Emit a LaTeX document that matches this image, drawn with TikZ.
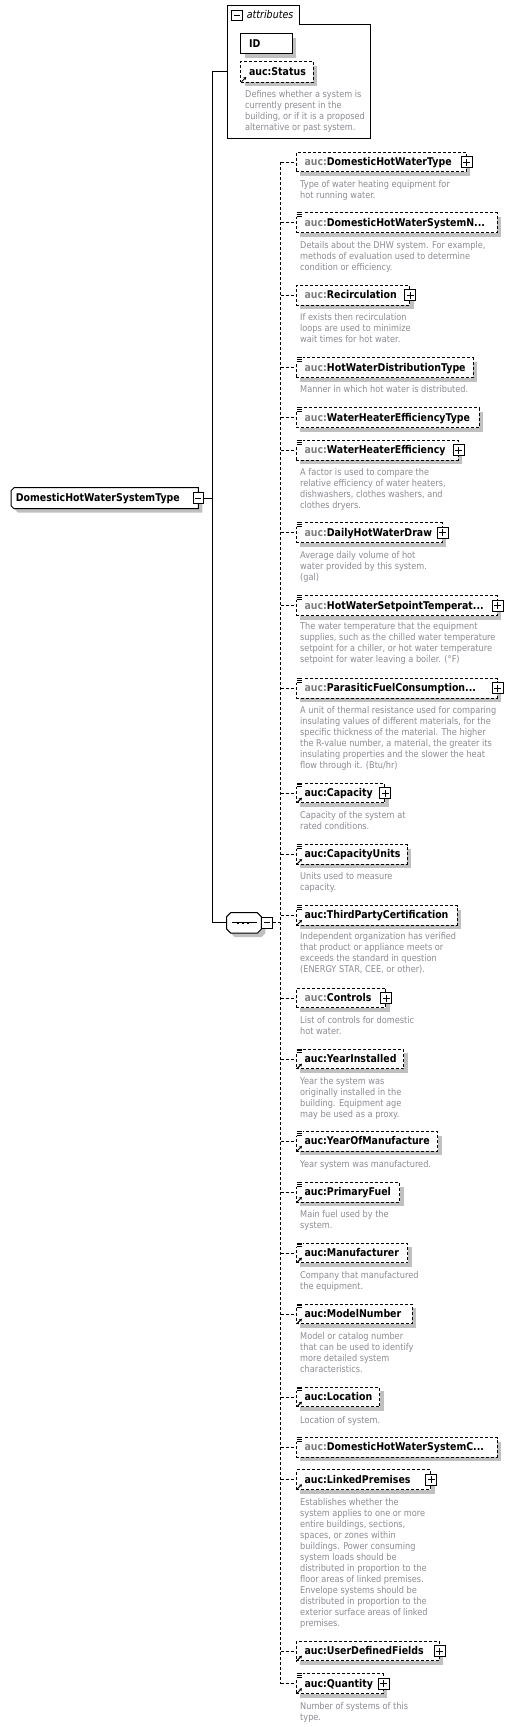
\documentclass[tikz,border=0pt]{standalone}
\usepackage{fontspec}
\setmainfont{DejaVu Sans}[FakeStretch=0.88]
\usetikzlibrary{shadows,arrows.meta,calc,backgrounds}
\definecolor{shadowgray}{RGB}{192,192,192}
\definecolor{desccol}{RGB}{140,140,148}
\definecolor{prefcol}{RGB}{128,128,128}
\newcommand{\nmfont}{\fontsize{10.7}{11}\selectfont\bfseries}
\newcommand{\dsfont}{\fontsize{9.3}{11}\selectfont}
\newcommand{\pfx}{\textcolor{prefcol}{auc:}}
\tikzset{
  lw/.style={line width=1pt},
  dsh/.style={dash pattern=on 3pt off 2pt},
  shad/.style={drop shadow={shadow xshift=4pt,shadow yshift=-4pt,fill=shadowgray,opacity=1}},
  elem/.style={draw, lw, dsh, fill=white, shad, anchor=north west, minimum height=19.7pt,
    inner xsep=8.3pt, inner ysep=0pt, text height=7.9pt, text depth=1pt, align=left, font=\nmfont},
  desc/.style={anchor=north west, inner sep=0pt, align=left, font=\dsfont, text=desccol},
  pbox/.style={draw, solid, lw, fill=white, minimum size=11pt, inner sep=0pt,
    path picture={\draw[lw] ([xshift=-3.5pt]path picture bounding box.center) -- ([xshift=3.5pt]path picture bounding box.center)
      ([yshift=-3.5pt]path picture bounding box.center) -- ([yshift=3.5pt]path picture bounding box.center);}},
  mbox/.style={draw, solid, lw, fill=white, minimum size=10.6pt, inner sep=0pt,
    path picture={\draw[lw] ([xshift=-3pt]path picture bounding box.center) -- ([xshift=3pt]path picture bounding box.center);}},
  conn/.style={lw},
  dconn/.style={lw, dsh},
  pics/lst/.style={code={\fill[white] (0.5,-1) rectangle (6.8,4.6);
    \draw[line width=0.8pt] (1,0.3) -- (6.3,0.3) (1,2.1) -- (6.3,2.1) (1,3.9) -- (6.3,3.9);}},
  pics/ref/.style={code={\draw[line width=0.9pt, -{Stealth[length=3pt,width=3.4pt]}] (1.5,-1) -- (6.3,-5.8);}},
}
\begin{document}
\begin{tikzpicture}[x=1pt,y=-1pt]
\begin{pgfonlayer}{background}
\fill[white] (0,0) rectangle (511,1727);
\end{pgfonlayer}
\useasboundingbox (0,0) rectangle (511,1727);

% ---------- attributes ----------
\node[minimum width=143.3pt, minimum height=133pt, anchor=north west, inner sep=0pt] (attrs) at (227,5) {};
\draw[lw] (attrs.north west) -- ++(72,0) -- ++(0,19) -| (attrs.south east) -- (attrs.south west) -- cycle;
\node[mbox] (attm) at (237,15.5) {};
\node[anchor=base west, inner sep=0pt, font=\fontsize{10.8}{11}\selectfont\itshape] (attl) at (246.7,18.7) {attributes};
\node[elem, solid, text width=34.7pt, inner xsep=8.5pt, minimum height=20pt] (aid) at (240,33.3) {\mbox{ID}};
\node[elem, text width=55.7pt, inner xsep=8.5pt, minimum height=20.7pt] (ast) at (240,61) {\mbox{auc:Status}};
\pic at (ast.south west) {ref};
\node[desc] (adesc) at (245,89.8) {\strut Defines whether a system is\\currently present in the\\building, or if it is a proposed\\alternative or past system.};

% ---------- root ----------
\node[anchor=north west, minimum width=187pt, minimum height=20.6pt, inner xsep=4.7pt, inner ysep=0pt,
  text width=177.6pt, align=left, font=\nmfont, text height=7.9pt, text depth=1pt] (root) at (11,487.7) {\mbox{DomesticHotWaterSystemType}};
\begin{pgfonlayer}{background}
\fill[shadowgray, transform canvas={xshift=4pt,yshift=-4pt}] ($(root.north west)+(3,0)$) -- (root.north east) -- (root.south east) -- ($(root.south west)+(3,0)$) -- ($(root.south west)+(0,-3)$) -- ($(root.north west)+(0,3)$) -- cycle;
\draw[lw, fill=white] ($(root.north west)+(3,0)$) -- (root.north east) -- (root.south east) -- ($(root.south west)+(3,0)$) -- ($(root.south west)+(0,-3)$) -- ($(root.north west)+(0,3)$) -- cycle;
\end{pgfonlayer}
\node[mbox] (rootm) at (root.east) {};

% ---------- sequence ----------
\node[anchor=north west, minimum width=34.3pt, minimum height=20pt, inner sep=0pt] (seq) at (226.7,912.7) {};
\begin{pgfonlayer}{background}
\fill[shadowgray, transform canvas={xshift=4pt,yshift=-4pt}] ($(seq.north west)+(4,0)$) -- ($(seq.north east)+(-4,0)$) -- ($(seq.north east)+(0,4)$) -- ($(seq.south east)+(0,-4)$) -- ($(seq.south east)+(-4,0)$) -- ($(seq.south west)+(4,0)$) -- ($(seq.south west)+(0,-4)$) -- ($(seq.north west)+(0,4)$) -- cycle;
\draw[lw, fill=white] ($(seq.north west)+(4,0)$) -- ($(seq.north east)+(-4,0)$) -- ($(seq.north east)+(0,4)$) -- ($(seq.south east)+(0,-4)$) -- ($(seq.south east)+(-4,0)$) -- ($(seq.south west)+(4,0)$) -- ($(seq.south west)+(0,-4)$) -- ($(seq.north west)+(0,4)$) -- cycle;
\end{pgfonlayer}
\draw[lw] ($(seq.center)+(-12.2,0)$) -- ($(seq.center)+(12.8,0)$);
\foreach \d in {-6.2,-1.2,3.8} \fill ($(seq.center)+(\d-1.3,-1.3)$) rectangle ($(seq.center)+(\d+1.3,1.3)$);
\node[mbox] (seqm) at ($(seq.east)+(5.35,0)$) {};

% ---------- elements ----------
\node[elem, text width=153.4pt] (e1) at (295.7,151.7) {\mbox{\pfx DomesticHotWaterType}};
\node[elem, text width=184.4pt] (e2) at (295.7,212.3) {\mbox{\pfx DomesticHotWaterSystemN...}};
\node[elem, text width=96.7pt] (e3) at (295.7,285) {\mbox{\pfx Recirculation}};
\node[elem, text width=160.4pt] (e4) at (295.7,357.3) {\mbox{\pfx HotWaterDistributionType}};
\node[elem, text width=166.4pt] (e5) at (295.7,407.3) {\mbox{\pfx WaterHeaterEfficiencyType}};
\node[elem, text width=145.4pt] (e6) at (295.7,440) {\mbox{\pfx WaterHeaterEfficiency}};
\node[elem, text width=129.4pt] (e7) at (295.7,522.3) {\mbox{\pfx DailyHotWaterDraw}};
\node[elem, text width=184.4pt] (e8) at (295.7,595.3) {\mbox{\pfx HotWaterSetpointTemperat...}};
\node[elem, text width=184.4pt] (e9) at (295.7,678) {\mbox{\pfx ParasiticFuelConsumption...}};
\node[elem, text width=72pt] (e10) at (295.7,782.7) {\mbox{auc:Capacity}};
\node[elem, text width=94.4pt] (e11) at (295.7,844) {\mbox{auc:CapacityUnits}};
\node[elem, text width=144.4pt] (e12) at (295.7,905) {\mbox{auc:ThirdPartyCertification}};
\node[elem, text width=72.7pt] (e13) at (295.7,987.7) {\mbox{\pfx Controls}};
\node[elem, text width=91pt] (e14) at (295.7,1048.7) {\mbox{auc:YearInstalled}};
\node[elem, text width=125pt] (e15) at (295.7,1131) {\mbox{auc:YearOfManufacture}};
\node[elem, text width=86.7pt] (e16) at (295.7,1182) {\mbox{auc:PrimaryFuel}};
\node[elem, text width=95pt] (e17) at (295.7,1242.7) {\mbox{auc:Manufacturer}};
\node[elem, text width=99.4pt] (e18) at (295.7,1303.7) {\mbox{auc:ModelNumber}};
\node[elem, text width=67pt] (e19) at (295.7,1386.7) {\mbox{auc:Location}};
\node[elem, text width=184.4pt] (e20) at (295.7,1437) {\mbox{\pfx DomesticHotWaterSystemC...}};
\node[elem, text width=117.7pt] (e21) at (295.7,1469.3) {\mbox{auc:LinkedPremises}};
\node[elem, text width=126.4pt] (e22) at (295.7,1640.7) {\mbox{auc:UserDefinedFields}};
\node[elem, text width=70.4pt] (e23) at (295.7,1673.3) {\mbox{auc:Quantity}};

\foreach \i in {1,3,6,7,8,9,10,13,21,22,23} \node[pbox] (p\i) at (e\i.east) {};
\foreach \i in {2,4,5,6,7,8,9,10,11,12,14,15,16,17,18,19,20,23} \pic at (e\i.north west) {lst};
\foreach \i in {10,11,12,14,15,16,17,18,19,21,22,23} \pic at (e\i.south west) {ref};

% ---------- descriptions ----------
\node[desc] (d1) at (300,179.8) {\strut Type of water heating equipment for\\hot running water.};
\node[desc] (d2) at (300,240.8) {\strut Details about the DHW system. For example,\\methods of evaluation used to determine\\condition or efficiency.};
\node[desc] (d3) at (300,312.5) {\strut If exists then recirculation\\loops are used to minimize\\wait times for hot water.};
\node[desc] (d4) at (300,384.8) {\strut Manner in which hot water is distributed.};
\node[desc] (d6) at (300,467.8) {\strut A factor is used to compare the\\relative efficiency of water heaters,\\dishwashers, clothes washers, and\\clothes dryers.};
\node[desc] (d7) at (300,550.5) {\strut Average daily volume of hot\\water provided by this system.\\(gal)};
\node[desc] (d8) at (300,621.8) {\strut The water temperature that the equipment\\supplies, such as the chilled water temperature\\setpoint for a chiller, or hot water temperature\\setpoint for water leaving a boiler. (°F)};
\node[desc] (d9) at (300,705.8) {\strut A unit of thermal resistance used for comparing\\insulating values of different materials, for the\\specific thickness of the material. The higher\\the R-value number, a material, the greater its\\insulating properties and the slower the heat\\flow through it. (Btu/hr)};
\node[desc] (d10) at (300,810.5) {\strut Capacity of the system at\\rated conditions.};
\node[desc] (d11) at (300,871.8) {\strut Units used to measure\\capacity.};
\node[desc] (d12) at (300,931.8) {\strut Independent organization has verified\\that product or appliance meets or\\exceeds the standard in question\\(ENERGY STAR, CEE, or other).};
\node[desc] (d13) at (300,1015.1) {\strut List of controls for domestic\\hot water.};
\node[desc] (d14) at (300,1076.8) {\strut Year the system was\\originally installed in the\\building. Equipment age\\may be used as a proxy.};
\node[desc] (d15) at (300,1159.5) {\strut Year system was manufactured.};
\node[desc] (d16) at (300,1209.8) {\strut Main fuel used by the\\system.};
\node[desc] (d17) at (300,1270.5) {\strut Company that manufactured\\the equipment.};
\node[desc] (d18) at (300,1331.8) {\strut Model or catalog number\\that can be used to identify\\more detailed system\\characteristics.};
\node[desc] (d19) at (300,1415.1) {\strut Location of system.};
\node[desc] (d21) at (300,1497.5) {\strut Establishes whether the\\system applies to one or more\\entire buildings, sections,\\spaces, or zones within\\buildings. Power consuming\\system loads should be\\distributed in proportion to the\\floor areas of linked premises.\\Envelope systems should be\\distributed in proportion to the\\exterior surface areas of linked\\premises.};
\node[desc] (d23) at (300,1701.5) {\strut Number of systems of this\\type.};

% ---------- connectors ----------
\coordinate (tk) at (212,0);
\coordinate (dk) at (280.7,0);
\draw[conn] (tk |- attrs.west) -- (attrs.west);
\draw[conn] (tk |- attrs.west) -- (tk |- seq.west);
\draw[conn] (rootm.east) -- (tk |- rootm.east);
\draw[conn] (tk |- seq.west) -- (seq.west);
\draw[dconn] (seqm.east) -- (dk |- seqm.east);
\draw[dconn] (dk |- e1.west) -- (dk |- e23.west);
\foreach \i in {1,...,23} \draw[dconn] (dk |- e\i.west) -- (e\i.west);
\end{tikzpicture}
\end{document}
